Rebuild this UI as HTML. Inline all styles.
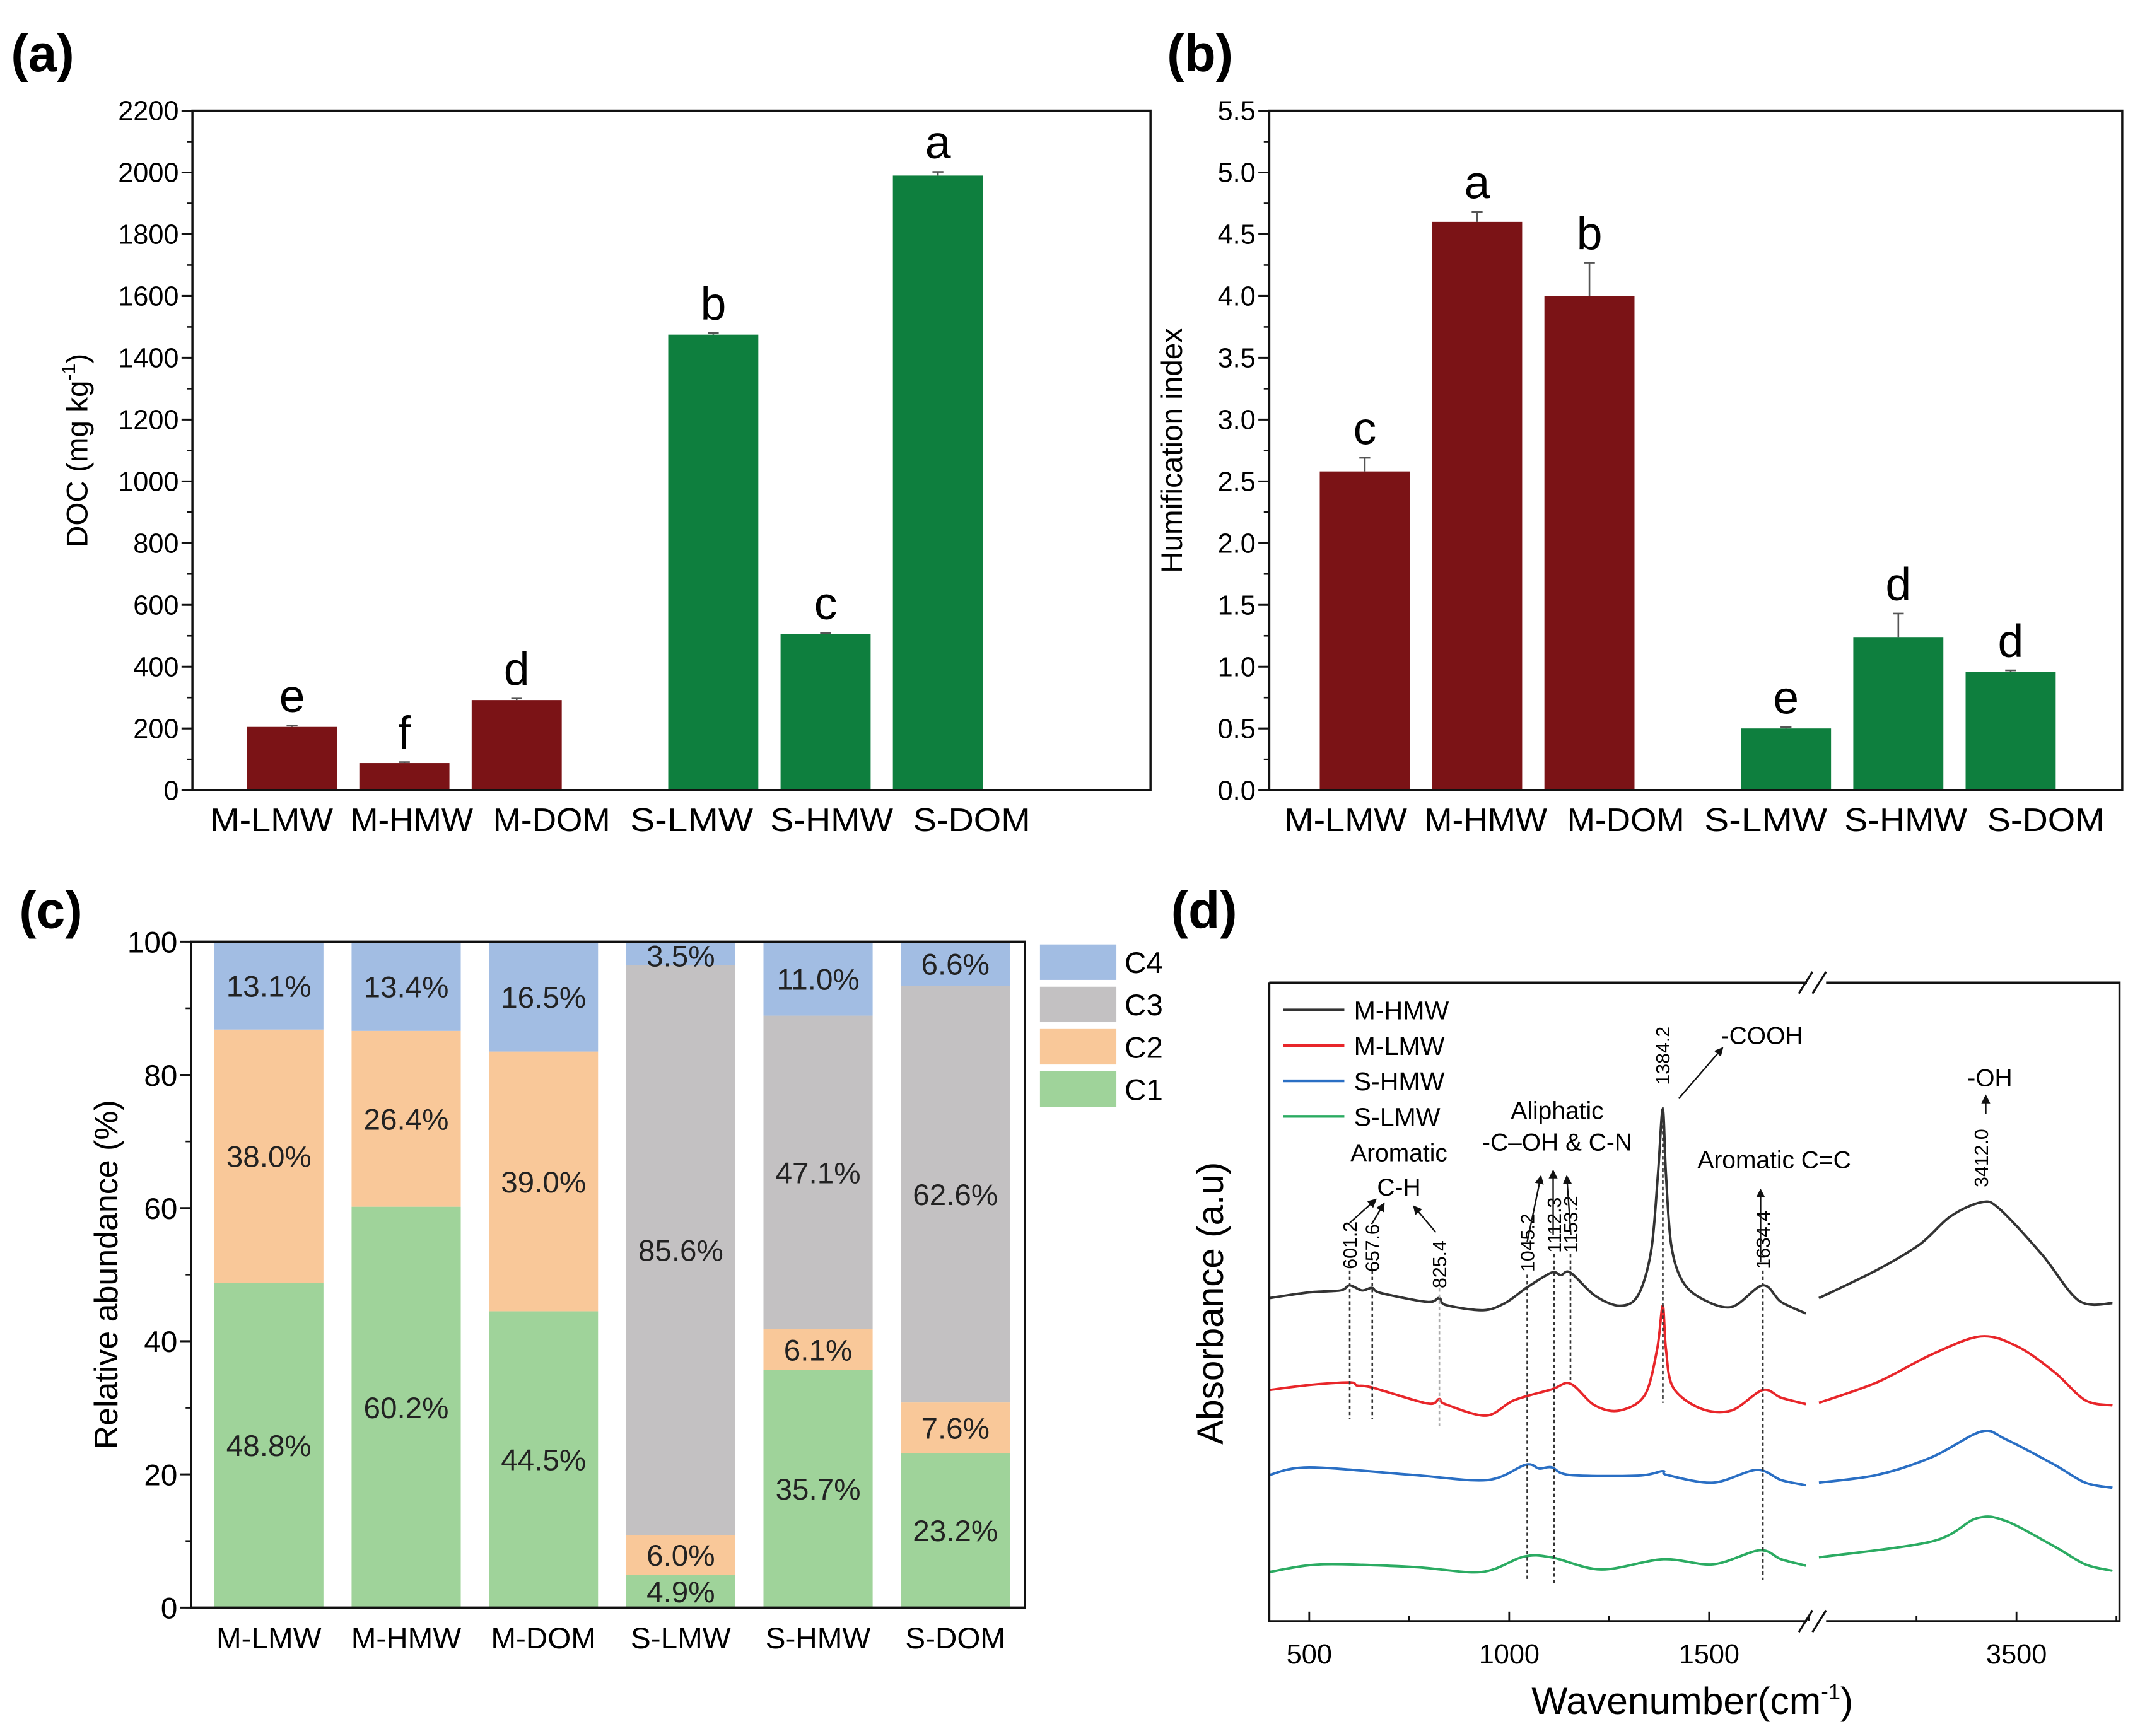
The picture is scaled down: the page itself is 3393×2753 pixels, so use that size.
<!DOCTYPE html>
<html><head><meta charset="utf-8"><style>
html,body{margin:0;padding:0;background:#fff}
svg{display:block;font-family:"Liberation Sans",Arial,sans-serif}
</style></head><body>
<svg id="fig" xmlns="http://www.w3.org/2000/svg" width="3393" height="2753" viewBox="0 0 1568 1272">
<rect width="1568" height="1272" fill="#fff"/>
<g id="root"></g>
</svg>
<script>
// ---------- data ----------
const categories = ["M-LMW","M-HMW","M-DOM","S-LMW","S-HMW","S-DOM"];
const barSlots = [0,1,2,3.75,4.75,5.75];
const docValues = [205,88,292,1475,505,1990];
const docErrors = [4,3,5,5,4,12];
const docLetters = ["e","f","d","b","c","a"];
const docTicks = [0,200,400,600,800,1000,1200,1400,1600,1800,2000,2200];
const hixValues = [2.58,4.6,4.0,0.5,1.24,0.96];
const hixErrors = [0.11,0.08,0.27,0.01,0.19,0.01];
const hixLetters = ["c","a","b","e","d","d"];
const hixTicks = [0,0.5,1,1.5,2,2.5,3,3.5,4,4.5,5,5.5];
const compNames = ["C1","C2","C3","C4"];
const c1 = [48.8,60.2,44.5,4.9,35.7,23.2];
const c2 = [38.0,26.4,39.0,6.0,6.1,7.6];
const c3 = [0,0,0,85.6,47.1,62.6];
const c4 = [13.1,13.4,16.5,3.5,11.0,6.6];
const pctTicks = [0,20,40,60,80,100];
const specNames = ["M-HMW","M-LMW","S-HMW","S-LMW"];
const mhmw = [[400,50.6],[500,51.5],[578,51.8],[601,52.6],[632,51.8],[657,52.2],[679,51.4],[795,50.0],[825,50.6],[842,49.5],[935,48.7],[989,49.8],[1036,51.9],[1045,52.3],[1106,54.6],[1129,54.2],[1153,54.6],[1214,51.0],[1276,49.4],[1322,51.0],[1355,58.0],[1372,70.0],[1384,80.2],[1392,70.0],[1405,59.0],[1432,53.4],[1479,50.6],[1556,49.2],[1634,52.6],[1680,50.0],[1742,48.2],
  [3006,50.6],[3151,55.0],[3258,59.0],[3335,63.4],[3412,65.6],[3457,64.6],[3564,57.4],[3656,50.2],[3740,49.8]];
const mlmw = [[400,36.2],[500,37.0],[601,37.4],[620,36.9],[657,36.6],[795,34.1],[825,34.8],[840,34.0],[942,32.2],[1012,34.6],[1106,36.3],[1153,37.2],[1214,33.8],[1276,33.0],[1339,35.4],[1370,42.6],[1384,49.4],[1392,42.6],[1410,36.6],[1479,33.3],[1556,33.0],[1634,36.2],[1680,35.0],[1742,34.0],
  [3006,34.2],[3151,37.4],[3289,41.8],[3411,44.6],[3503,43.0],[3595,39.0],[3672,34.6],[3740,33.8]];
const shmw = [[400,22.9],[500,24.1],[760,22.9],[945,22.1],[1041,24.5],[1075,23.9],[1106,24.1],[1152,22.9],[1322,22.8],[1384,23.5],[1395,22.9],[1510,21.7],[1619,23.7],[1680,22.1],[1742,21.3],
  [3006,21.7],[3151,22.9],[3289,25.7],[3412,29.7],[3473,28.5],[3595,24.5],[3672,21.7],[3740,20.9]];
const slmw = [[400,7.7],[531,8.9],[760,8.5],[930,7.7],[1036,10.1],[1106,10.0],[1230,8.1],[1385,9.7],[1510,8.9],[1626,11.1],[1680,9.7],[1742,8.7],
  [3006,10.0],[3289,12.5],[3400,16.1],[3473,15.7],[3595,11.7],[3672,8.9],[3740,7.9]];
const specTicks = [500,1000,1500,3500];
const peakLabels = ["601.2","657.6","825.4","1045.2","1112.3","1153.2","1384.2","1634.4","3412.0"];
const peakWn = [601.2,657.6,825.4,1045.2,1112.3,1153.2,1384.2,1634.4,3412.0];

// ---------- helpers ----------
const NS="http://www.w3.org/2000/svg";
const root=document.getElementById('root');
function mk(tag,attrs,parent,txt){const e=document.createElementNS(NS,tag);for(const k in attrs)e.setAttribute(k,attrs[k]);if(txt!==undefined)e.textContent=txt;(parent||root).appendChild(e);return e;}
function grp(name){const g=mk('g',{});return g;}

function panelLetter(t,x,y){const e=mk('text',{x:x,y:y,'font-size':38,'font-weight':'bold'},root,t);}
panelLetter('(a)',8,52);panelLetter('(b)',855,52);panelLetter('(c)',14,680);panelLetter('(d)',858,680);

// bar panel
function barPanel(id,box,ymax,ticks,minorStep,vals,errs,letters,fmt,ytx,slotX0,slotW,barW,xlabY,labX0){
  const g=grp(id);
  const ys=v=>box.b-(v/ymax)*(box.b-box.t);
  const xs=s=>slotX0+s*slotW;
  for(let i=0;i<vals.length;i++){
    const cx=xs(barSlots[i]);const col=i<3?'#7b1316':'#0e7f3e';
    const r=mk('rect',{x:cx-barW/2,y:ys(vals[i]),width:barW,height:box.b-ys(vals[i]),fill:col},g);
    
    const ey=ys(vals[i]+errs[i]);
    const el=mk('path',{d:`M${cx},${ys(vals[i])}V${ey}M${cx-4},${ey}H${cx+4}`,stroke:'#555','stroke-width':1.2,fill:'none'},g);
    
    const lt=mk('text',{x:cx,y:ey-10,'font-size':34,'text-anchor':'middle'},g,letters[i]);
    
    const lx=labX0+i*102.6;
    const xl=mk('text',{x:lx,y:xlabY,'font-size':24,'text-anchor':'middle',textLength:categories[i].indexOf('DOM')>0?86:90,lengthAdjust:'spacingAndGlyphs'},g,categories[i]);
    
  }
  const fr=mk('rect',{x:box.l,y:box.t,width:box.r-box.l,height:box.b-box.t,fill:'none',stroke:'#111','stroke-width':1.6},g);
  
  for(let v=0;v<=ymax+1e-9;v+=minorStep){mk('line',{x1:box.l-4,x2:box.l,y1:ys(v),y2:ys(v),stroke:'#111','stroke-width':1.2},g);}
  ticks.forEach(t=>{mk('line',{x1:box.l-8,x2:box.l,y1:ys(t),y2:ys(t),stroke:'#111','stroke-width':1.4},g);
    const tl=mk('text',{x:box.l-10,y:ys(t)+7,'font-size':20,'text-anchor':'end'},g,fmt(t));
    });
  const yt=mk('text',{x:ytx,y:(box.t+box.b)/2,'font-size':22,'text-anchor':'middle',transform:`rotate(-90 ${ytx} ${(box.t+box.b)/2})`},g);
  
  return yt;
}
const ytA=barPanel('panel-a-doc',{l:141,r:843,t:81,b:579},2200,docTicks,100,docValues,docErrors,docLetters,t=>String(t),64,214,82.3,66,609,199);
ytA.innerHTML='DOC (mg kg<tspan dy="-9" font-size="14">-1</tspan><tspan dy="9">)</tspan>';
const ytB=barPanel('panel-b-hix',{l:930,r:1555,t:81,b:579},5.5,hixTicks,0.25,hixValues,hixErrors,hixLetters,t=>t.toFixed(1),866,1000,82.3,66,609,986);
ytB.textContent='Humification index';

// panel c stacked
(function(){
  const g=grp('panel-c-stacked');
  const box={l:140,r:751,t:690,b:1178};
  const ys=v=>box.b-(v/100)*(box.b-box.t);
  const cols=['#9fd39a','#f9c899','#c3c1c2','#a2bde3'];
  const series=[c1,c2,c3,c4];
  const bw=80, x0=197, step=100.6;
  for(let i=0;i<6;i++){
    let acc=0;const cx=x0+i*step;
    for(let s=0;s<4;s++){
      const v=series[s][i];if(v<=0)continue;
      let top=acc+v; if(s===3) top=100;
      const r=mk('rect',{x:cx-bw/2,y:ys(top),width:bw,height:ys(acc)-ys(top),fill:cols[s]},g);
      
      let ly=(ys(acc)+ys(top))/2+8; if(s===3&&v<5) ly=ys(100)+18;
      const t=mk('text',{x:cx,y:ly,'font-size':22,'text-anchor':'middle',fill:'#222'},g,v.toFixed(1)+'%');
      
      acc=top;
    }
    const xl=mk('text',{x:cx,y:1208,'font-size':22,'text-anchor':'middle'},g,categories[i]);
    
  }
  const fr=mk('rect',{x:box.l,y:box.t,width:box.r-box.l,height:box.b-box.t,fill:'none',stroke:'#111','stroke-width':1.6},g);
  
  for(let v=0;v<=100;v+=10)mk('line',{x1:box.l-4,x2:box.l,y1:ys(v),y2:ys(v),stroke:'#111','stroke-width':1.2},g);
  pctTicks.forEach(t=>{mk('line',{x1:box.l-8,x2:box.l,y1:ys(t),y2:ys(t),stroke:'#111','stroke-width':1.4},g);
    const tl=mk('text',{x:box.l-10,y:ys(t)+8,'font-size':22,'text-anchor':'end'},g,String(t));
    });
  const yt=mk('text',{x:86,y:934,'font-size':24,'text-anchor':'middle',transform:'rotate(-90 86 934)'},g,'Relative abundance (%)');
  
  for(let s=3;s>=0;s--){
    const y=705+(3-s)*31;
    const r=mk('rect',{x:762,y:y-13,width:56,height:26,fill:cols[s]},g);
    
    const t=mk('text',{x:824,y:y+8,'font-size':22},g,compNames[s]);
    
  }
})();

// panel d spectra
(function(){
  const g=grp('panel-d-ftir');
  const box={l:930,r:1553,t:720,b:1188};
  const k=0.293;
  const xs=w=> w<2500 ? box.l+(w-400)*k : 1331+(w-3000)*k;
  const ys=a=>box.b-a/100*(box.b-box.t);
  const cols=['#333','#e8262a','#2a6fc4','#2bab62'];
  const data=[mhmw,mlmw,shmw,slmw];
  function path(pts){
    if(pts.length<2)return '';
    const P=pts.map(p=>[xs(p[0]),ys(p[1])]);
    let d=`M${P[0][0]},${P[0][1]}`;
    for(let i=0;i<P.length-1;i++){
      const p0=P[i-1]||P[i],p1=P[i],p2=P[i+1],p3=P[i+2]||P[i+1];
      const t=0.16;
      d+=`C${p1[0]+(p2[0]-p0[0])*t},${p1[1]+(p2[1]-p0[1])*t} ${p2[0]-(p3[0]-p1[0])*t},${p2[1]-(p3[1]-p1[1])*t} ${p2[0]},${p2[1]}`;
    }
    return d;
  }
  data.forEach((ser,i)=>{
    const left=ser.filter(p=>p[0]<2500), right=ser.filter(p=>p[0]>2500);
    const e=mk('path',{d:path(left)+path(right),stroke:cols[i],'stroke-width':1.8,fill:'none'},g);
    
    const ly=740+i*26;
    const ll=mk('line',{x1:940,x2:985,y1:ly,y2:ly,stroke:cols[i],'stroke-width':2},g);
    
    const lt=mk('text',{x:992,y:ly+7,'font-size':19},g,specNames[i]);
    
  });
  const fr=mk('path',{d:`M${box.l},${box.t}V${box.b}H1324M1338,${box.b}H${box.r}V${box.t}H1338M1324,${box.t}H${box.l}`,stroke:'#111','stroke-width':1.6,fill:'none'},g);
  
  [box.t,box.b].forEach(y=>{const b=mk('path',{d:`M1318,${y+8}L1328,${y-8}M1328,${y+8}L1338,${y-8}`,stroke:'#111','stroke-width':1.5,fill:'none'},g);
    });
  for(let w=500;w<=1750;w+=250)mk('line',{x1:xs(w),x2:xs(w),y1:box.b,y2:box.b-(w%500?4:7),stroke:'#111','stroke-width':1.3},g);
  for(let w=3250;w<=3750;w+=250)mk('line',{x1:xs(w),x2:xs(w),y1:box.b,y2:box.b-(w%500?4:7),stroke:'#111','stroke-width':1.3},g);
  specTicks.forEach(w=>{const t=mk('text',{x:xs(w),y:1219,'font-size':20,'text-anchor':'middle'},g,String(w));
    });
  const xt=mk('text',{x:1240,y:1256,'font-size':28,'text-anchor':'middle'},g);
  xt.innerHTML='Wavenumber(cm<tspan dy="-11" font-size="16">-1</tspan><tspan dy="11">)</tspan>';
  
  const yt=mk('text',{x:896,y:955,'font-size':27,'text-anchor':'middle',transform:'rotate(-90 896 955)'},g,'Absorbance (a.u)');
  
  const labY=[930,932,944,932,918,918,795,930,870];
  const dashTop=[931,931,944,934,919,919,811,931,0];
  const dashBot=[1040,1040,1045,1158,1161,1013,1028,1158,0];
  peakWn.forEach((w,i)=>{
    const x=xs(w);
    const t=mk('text',{x:x+5,y:labY[i],'font-size':14,transform:`rotate(-90 ${x+5} ${labY[i]})`},g,peakLabels[i]);
    
    if(dashBot[i]){const l=mk('line',{x1:x,x2:x,y1:dashTop[i],y2:dashBot[i],stroke:i==2?'#aaa':'#333','stroke-width':1.2,'stroke-dasharray':'2.5 2'},g);
      }
  });
  function txt(s,x,y,fs,name){const t=mk('text',{x:x,y:y,'font-size':fs||18,'text-anchor':'middle'},g,s);}
  txt('Aromatic',1025,851,18,'annotation-aromatic-ch');txt('C-H',1025,876,18,'annotation-ch');
  txt('Aliphatic',1141,820,18,'annotation-aliphatic');txt('-C–OH & C-N',1141,843,18,'annotation-coh-cn');
  txt('-COOH',1291,765,18,'annotation-cooh');txt('Aromatic C=C',1300,856,18,'annotation-aromatic-cc');
  txt('-OH',1458,796,18,'annotation-oh');
  const defs=mk('defs',{},g);
  const m=mk('marker',{id:'ah',markerWidth:6,markerHeight:6,refX:5,refY:3,orient:'auto'},defs);
  mk('path',{d:'M0,0L6,3L0,6z',fill:'#111'},m);
  const arrows=[[989,896,1008,879],[1005,897,1014,882],[1052,903,1036,884],[1119,910,1129,862],[1138,905,1138,858],[1151,905,1148,862],[1230,805,1262,768],[1290,925,1290,872],[1455,816,1455,803]];
  arrows.forEach(a=>{const l=mk('line',{x1:a[0],y1:a[1],x2:a[2],y2:a[3],stroke:'#111','stroke-width':1.1,'marker-end':'url(#ah)'},g);
    });
})();
</script>
</body></html>
